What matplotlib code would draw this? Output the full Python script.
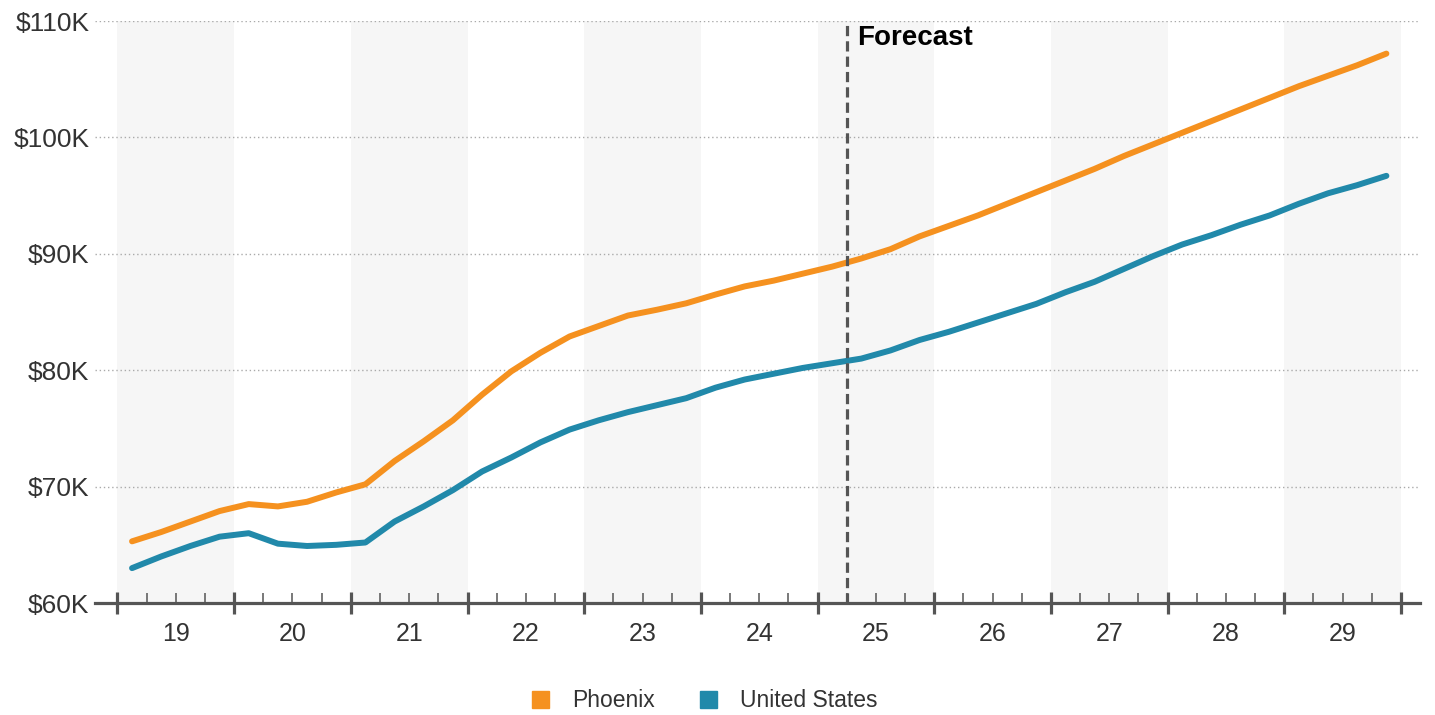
import matplotlib.pyplot as plt
import matplotlib.patches as mpatches
import matplotlib.transforms as mtransforms
import numpy as np

plt.rcParams['font.family'] = ['Liberation Sans', 'DejaVu Sans']

years = ['19', '20', '21', '22', '23', '24', '25', '26', '27', '28', '29']

# quarterly values, $K, 2019 Q1 .. 2029 Q4
phoenix = [65.3, 66.1, 67.0, 67.9, 68.5, 68.3, 68.7, 69.5,
           70.2, 72.2, 73.9, 75.7, 77.9, 79.9, 81.5, 82.9,
           83.8, 84.7, 85.2, 85.75, 86.5, 87.2, 87.7, 88.3,
           88.9, 89.6, 90.4, 91.5, 92.4, 93.3, 94.3, 95.3,
           96.3, 97.3, 98.4, 99.4, 100.4, 101.4, 102.4, 103.4,
           104.4, 105.3, 106.2, 107.2]
united_states = [63.0, 64.0, 64.9, 65.7, 66.0, 65.1, 64.9, 65.0,
                 65.2, 67.0, 68.3, 69.7, 71.3, 72.5, 73.8, 74.9,
                 75.7, 76.4, 77.0, 77.6, 78.5, 79.2, 79.7, 80.2,
                 80.6, 81.0, 81.7, 82.6, 83.3, 84.1, 84.9, 85.7,
                 86.7, 87.6, 88.7, 89.8, 90.8, 91.6, 92.5, 93.3,
                 94.3, 95.2, 95.9, 96.7]
forecast_start = 24.5  # between 2025 Q1 and Q2

orange = '#F5911F'
blue = '#2189AA'
axis_grey = '#555555'
text_grey = '#333333'

q = np.arange(len(phoenix))

fig = plt.figure(figsize=(14.35, 7.15), dpi=100)
ax = fig.add_axes([0.0662, 0.1566, 0.9233, 0.814])

# alternating year bands
for i in range(len(years)):
    if i % 2 == 0:
        ax.axvspan(4 * i - 0.5, 4 * i + 3.5, color='#F6F6F6', lw=0, zorder=0)

for v in [70, 80, 90, 100, 110]:
    ax.axhline(v, color='#AAAAAA', lw=1, ls=(0, (1, 2)), zorder=1)

ax.plot(q, phoenix, color=orange, lw=4.3, solid_capstyle='round', zorder=3)
ax.plot(q, united_states, color=blue, lw=4.3, solid_capstyle='round', zorder=3)

ax.axvline(forecast_start, color=axis_grey, lw=2.3, ls=(0, (3.2, 1.6)), zorder=4)
ax.text(forecast_start + 0.35, 109.7, 'Forecast', fontsize=20, fontweight='bold',
        color='black', ha='left', va='top')

ax.set_xlim(-1.27, 44.15)
ax.set_ylim(60, 110)

for s in ['top', 'right', 'left']:
    ax.spines[s].set_visible(False)
ax.spines['bottom'].set_color(axis_grey)
ax.spines['bottom'].set_linewidth(2.3)

ax.set_yticks([60, 70, 80, 90, 100, 110])
ax.set_yticklabels(['$60K', '$70K', '$80K', '$90K', '$100K', '$110K'])
ax.tick_params(axis='y', length=0, pad=4, labelsize=19, labelcolor=text_grey)

major = [4 * i - 0.5 for i in range(len(years) + 1)]
minor = [b for b in np.arange(-0.5, 44, 1.0) if b not in major]
ax.set_xticks(major)
ax.set_xticklabels([])
ax.set_xticks(minor, minor=True)
ax.tick_params(axis='x', which='major', direction='inout', length=16,
               width=2.3, color=axis_grey)
ax.tick_params(axis='x', which='minor', direction='in', length=7.5,
               width=1.1, color=axis_grey)

trans = mtransforms.blended_transform_factory(ax.transData, ax.transAxes)
for i, y in enumerate(years):
    ax.text(4 * i + 1.5, -0.054, y, transform=trans, ha='center', va='center',
            fontsize=18, color=text_grey)

handles = [mpatches.Patch(color=orange, label='Phoenix'),
           mpatches.Patch(color=blue, label='United States')]
fig.legend(handles=handles, loc='center', bbox_to_anchor=(0.491, 0.02),
           ncol=2, frameon=False, fontsize=16.5, handlelength=0.75,
           handleheight=0.75, handletextpad=1.0, columnspacing=1.95,
           labelcolor=text_grey)

fig.savefig('out.png', dpi=100)
